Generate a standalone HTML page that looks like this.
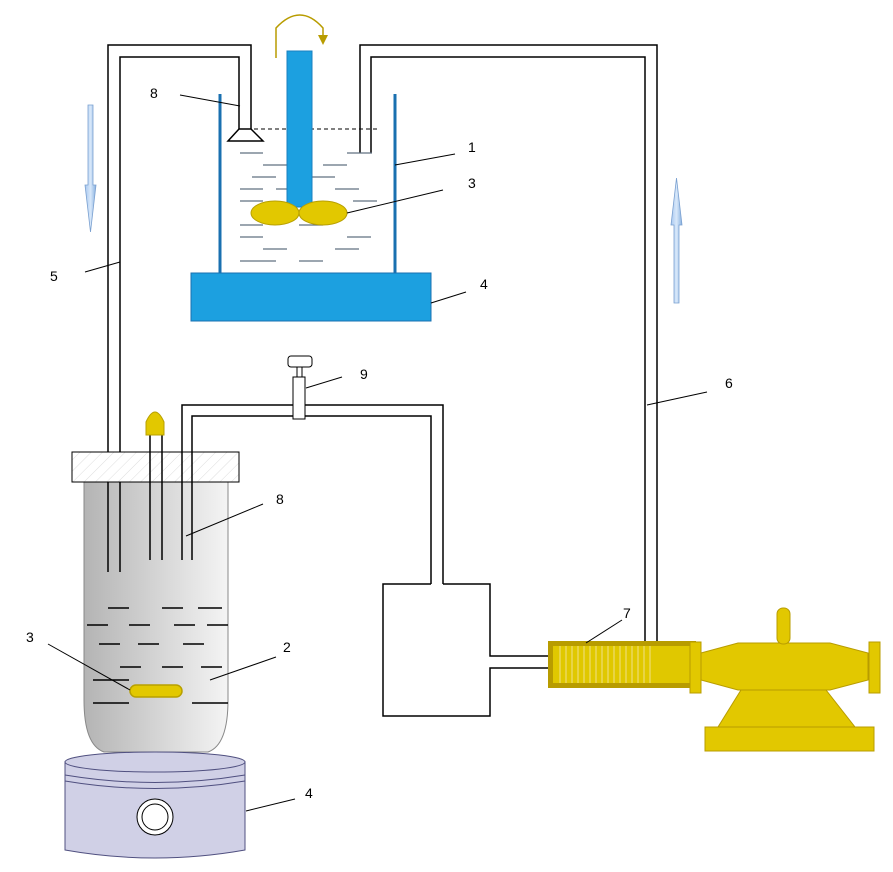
<!DOCTYPE html>
<html><head><meta charset="utf-8"><style>body{margin:0;background:#fff}svg{display:block;font-family:"Liberation Sans",sans-serif}</style></head><body>
<svg width="893" height="872" viewBox="0 0 893 872" xmlns="http://www.w3.org/2000/svg">
<defs>
<linearGradient id="vg" x1="0" x2="1" y1="0" y2="0"><stop offset="0" stop-color="#b4b4b4"/><stop offset="1" stop-color="#f4f4f4"/></linearGradient>
<linearGradient id="ag" x1="0" x2="1"><stop offset="0" stop-color="#a8c8f0"/><stop offset="0.5" stop-color="#d8e8fa"/><stop offset="1" stop-color="#88b0e0"/></linearGradient>
<pattern id="hatch" width="8" height="8" patternUnits="userSpaceOnUse" patternTransform="rotate(45)"><line x1="0" y1="0" x2="0" y2="8" stroke="#ddd" stroke-width="1"/></pattern>
</defs>
<g fill="none" stroke="#000" stroke-width="1.5">
<!-- left pipe -->
<polyline points="108,572 108,45 251,45 251,129"/>
<polyline points="120,572 120,57 239,57 239,129"/>
<polygon points="239,129 251,129 263,141 228,141" fill="#fff"/>
<!-- right pipe -->
<polyline points="360,153 360,45 657,45 657,641"/>
<polyline points="371,153 371,57 645,57 645,641"/>
</g>
<line x1="240" y1="129" x2="377" y2="129" stroke="#000" stroke-width="1" stroke-dasharray="4,3"/>
<!-- beaker -->
<line x1="220" y1="94" x2="220" y2="274" stroke="#1a70b0" stroke-width="3"/>
<line x1="395" y1="94" x2="395" y2="274" stroke="#1a70b0" stroke-width="3"/>
<rect x="191" y="273" width="240" height="48" fill="#1ca0e0" stroke="#1a70b0"/>
<g stroke="#607080" stroke-width="1.2">
<line x1="240" y1="153" x2="263" y2="153"/><line x1="347" y1="153" x2="372" y2="153"/>
<line x1="263" y1="165" x2="287" y2="165"/><line x1="323" y1="165" x2="347" y2="165"/>
<line x1="252" y1="177" x2="276" y2="177"/><line x1="312" y1="177" x2="335" y2="177"/>
<line x1="240" y1="189" x2="263" y2="189"/><line x1="276" y1="189" x2="299" y2="189"/><line x1="335" y1="189" x2="359" y2="189"/>
<line x1="240" y1="201" x2="263" y2="201"/><line x1="353" y1="201" x2="377" y2="201"/>
<line x1="240" y1="225" x2="263" y2="225"/><line x1="299" y1="225" x2="323" y2="225"/>
<line x1="240" y1="237" x2="263" y2="237"/><line x1="347" y1="237" x2="371" y2="237"/>
<line x1="263" y1="249" x2="287" y2="249"/><line x1="335" y1="249" x2="359" y2="249"/>
<line x1="240" y1="261" x2="276" y2="261"/><line x1="299" y1="261" x2="323" y2="261"/>
</g>
<rect x="287" y="51" width="25" height="156" fill="#1ca0e0" stroke="#1a80c0"/>
<ellipse cx="275" cy="213" rx="24" ry="12" fill="#e2c800" stroke="#b8a000"/>
<ellipse cx="323" cy="213" rx="24" ry="12" fill="#e2c800" stroke="#b8a000"/>
<path d="M276,58 L276,28 Q300,2 323,28 L323,38" fill="none" stroke="#b89c00" stroke-width="1.5"/>
<polygon points="318,35 328,35 323,45" fill="#b89c00"/>
<!-- flow arrows -->
<polygon points="88,105 93,105 93,185 96,185 90.5,232 85,185 88,185" fill="url(#ag)" stroke="#7aa0d0" stroke-width="0.8"/>
<polygon points="674,303 679,303 679,225 682,225 676.5,178 671,225 674,225" fill="url(#ag)" stroke="#7aa0d0" stroke-width="0.8"/>
<!-- bottom vessel -->
<path d="M84,482 L228,482 L228,700 Q228,745 208,752 L104,752 Q84,745 84,700 Z" fill="url(#vg)" stroke="#888"/>
<rect x="72" y="452" width="167" height="30" fill="#fff" stroke="#000"/>
<rect x="72" y="452" width="167" height="30" fill="url(#hatch)" stroke="#000"/>
<g stroke="#000" stroke-width="1.5" fill="none">
<line x1="108" y1="482" x2="108" y2="572"/><line x1="120" y1="482" x2="120" y2="572"/>
<line x1="150" y1="435" x2="150" y2="560"/><line x1="162" y1="435" x2="162" y2="560"/>
<polyline points="182,560 182,405 443,405 443,584"/>
<polyline points="192,560 192,416 431,416 431,584"/>
<polyline points="431,584 383,584 383,716 490,716 490,668 548,668"/>
<polyline points="443,584 490,584 490,656 548,656"/>
</g>
<path d="M146,435 L146,422 Q155,402 164,422 L164,435 Z" fill="#e2c800" stroke="#b8a000"/>
<rect x="293" y="377" width="12" height="42" fill="#fff" stroke="#000"/>
<rect x="297" y="367" width="5" height="10" fill="#fff" stroke="#000"/>
<rect x="288" y="356" width="24" height="11" rx="3" fill="#fff" stroke="#000"/>
<g stroke="#000" stroke-width="1.5">
<line x1="108" y1="608" x2="129" y2="608"/><line x1="162" y1="608" x2="183" y2="608"/><line x1="198" y1="608" x2="222" y2="608"/>
<line x1="87" y1="625" x2="108" y2="625"/><line x1="129" y1="625" x2="150" y2="625"/><line x1="174" y1="625" x2="195" y2="625"/><line x1="207" y1="625" x2="228" y2="625"/>
<line x1="99" y1="644" x2="120" y2="644"/><line x1="138" y1="644" x2="159" y2="644"/><line x1="183" y1="644" x2="204" y2="644"/>
<line x1="120" y1="667" x2="141" y2="667"/><line x1="162" y1="667" x2="183" y2="667"/><line x1="201" y1="667" x2="222" y2="667"/>
<line x1="93" y1="680" x2="129" y2="680"/>
<line x1="93" y1="703" x2="129" y2="703"/><line x1="192" y1="703" x2="228" y2="703"/>
</g>
<rect x="130" y="685" width="52" height="12" rx="6" fill="#e2c800" stroke="#b8a000" stroke-width="1.5"/>
<!-- hot plate -->
<path d="M65,762 L65,850 Q155,866 245,850 L245,762 Z" fill="#d0d0e6" stroke="#505080"/>
<ellipse cx="155" cy="762" rx="90" ry="10" fill="#d0d0e6" stroke="#505080"/>
<path d="M65,775 Q155,790 245,775 M65,781 Q155,796 245,781" fill="none" stroke="#505080"/>
<circle cx="155" cy="817" r="18" fill="#fff" stroke="#000"/>
<circle cx="155" cy="817" r="13" fill="#fff" stroke="#000"/>
<!-- heat exchanger & pump -->
<rect x="548" y="641" width="148" height="47" fill="#b89c00"/>
<rect x="553" y="646" width="138" height="37" fill="#e0c800"/>
<g stroke="#efe08a" stroke-width="1"><line x1="560" y1="646" x2="560" y2="683"/><line x1="566" y1="646" x2="566" y2="683"/><line x1="572" y1="646" x2="572" y2="683"/><line x1="578" y1="646" x2="578" y2="683"/><line x1="584" y1="646" x2="584" y2="683"/><line x1="590" y1="646" x2="590" y2="683"/><line x1="596" y1="646" x2="596" y2="683"/><line x1="602" y1="646" x2="602" y2="683"/><line x1="608" y1="646" x2="608" y2="683"/><line x1="614" y1="646" x2="614" y2="683"/><line x1="620" y1="646" x2="620" y2="683"/><line x1="626" y1="646" x2="626" y2="683"/><line x1="632" y1="646" x2="632" y2="683"/><line x1="638" y1="646" x2="638" y2="683"/><line x1="644" y1="646" x2="644" y2="683"/><line x1="650" y1="646" x2="650" y2="683"/></g>
<g fill="#e2c800" stroke="#b89c00">
<rect x="690" y="642" width="11" height="51"/>
<polygon points="701,653 738,643 830,643 868,653 868,680 830,690 738,690 701,680"/>
<rect x="869" y="642" width="11" height="51"/>
<rect x="777" y="608" width="13" height="36" rx="6"/>
<polygon points="741,690 826,690 855,727 718,727"/>
<rect x="705" y="727" width="169" height="24"/>
</g>
<!-- leader lines -->
<g stroke="#000" stroke-width="1">
<line x1="180" y1="95" x2="240" y2="106"/>
<line x1="395" y1="165" x2="455" y2="154"/>
<line x1="347" y1="213" x2="443" y2="190"/>
<line x1="431" y1="303" x2="466" y2="292"/>
<line x1="85" y1="272" x2="120" y2="262"/>
<line x1="306" y1="388" x2="342" y2="377"/>
<line x1="186" y1="536" x2="263" y2="504"/>
<line x1="48" y1="644" x2="130" y2="690"/>
<line x1="210" y1="680" x2="276" y2="657"/>
<line x1="246" y1="811" x2="295" y2="799"/>
<line x1="647" y1="405" x2="707" y2="392"/>
<line x1="586" y1="643" x2="622" y2="620"/>
</g>
<g font-size="14" fill="#000">
<text x="150" y="98">8</text>
<text x="468" y="152">1</text>
<text x="468" y="188">3</text>
<text x="480" y="289">4</text>
<text x="50" y="281">5</text>
<text x="360" y="379">9</text>
<text x="276" y="504">8</text>
<text x="26" y="642">3</text>
<text x="283" y="652">2</text>
<text x="305" y="798">4</text>
<text x="725" y="388">6</text>
<text x="623" y="618">7</text>
</g>
</svg>
</body></html>
